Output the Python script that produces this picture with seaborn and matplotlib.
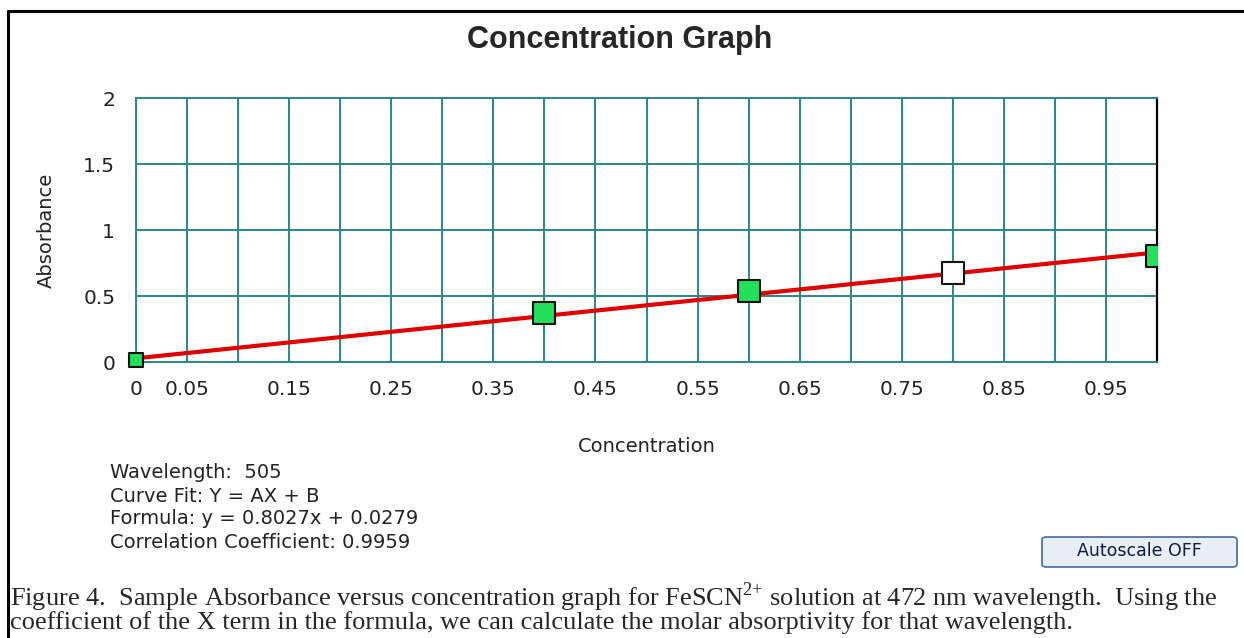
import numpy as np
import pandas as pd
import matplotlib
matplotlib.use("Agg")
import matplotlib.pyplot as plt
from matplotlib.patches import FancyBboxPatch
from matplotlib.lines import Line2D
import seaborn as sns

# data
concentration = [0.0, 0.4, 0.6, 0.8, 1.0]
absorbance = [0.015, 0.37, 0.535, 0.675, 0.80]
used_in_fit = [True, True, True, False, True]
slope, intercept = 0.8027, 0.0279
fit_x = [0.0, 1.0]
x_ticks = [round(0.05 * i, 2) for i in range(21)]
x_labels = ["0", "0.05", "", "0.15", "", "0.25", "", "0.35", "", "0.45", "",
            "0.55", "", "0.65", "", "0.75", "", "0.85", "", "0.95", ""]
y_ticks = [0, 0.5, 1, 1.5, 2]
y_labels = ["0", "0.5", "1", "1.5", "2"]
info_lines = ["Wavelength:  505",
              "Curve Fit: Y = AX + B",
              "Formula: y = 0.8027x + 0.0279",
              "Correlation Coefficient: 0.9959"]

df = pd.DataFrame({"Concentration": concentration, "Absorbance": absorbance,
                   "used": used_in_fit})
fit = pd.DataFrame({"x": fit_x, "y": [slope * v + intercept for v in fit_x]})

sns.set_style("white")
plt.rcParams["font.family"] = ["DejaVu Sans"]

teal = "#2a8888"
fig = plt.figure(figsize=(12.44, 6.38), dpi=100)
ax = fig.add_axes([136 / 1244, 1 - 362 / 638, 1021 / 1244, 264 / 638])

sns.lineplot(data=fit, x="x", y="y", color="#e00000", lw=3, ax=ax, zorder=3)
sizes = [110, 260, 260, 260, 260]
colors = ["#22e05a" if u else "white" for u in used_in_fit]
for i, row in df.iterrows():
    sns.scatterplot(x=[row["Concentration"]], y=[row["Absorbance"]], ax=ax,
                    marker="s", s=sizes[i], color=colors[i],
                    edgecolor="#111111", linewidth=1.5, zorder=4,
                    clip_on=(i != 0))

ax.set_xlim(0, 1)
ax.set_ylim(0, 2)
ax.set_xticks(x_ticks)
ax.set_xticklabels(x_labels)
ax.set_yticks(y_ticks)
ax.set_yticklabels(y_labels)
ax.grid(True, color=teal, lw=1.4)
ax.set_axisbelow(True)
for s in ["left", "top", "bottom"]:
    ax.spines[s].set_color(teal)
    ax.spines[s].set_linewidth(1.4)
ax.spines["right"].set_color("black")
ax.spines["right"].set_linewidth(1.6)
ax.tick_params(axis="both", direction="out", length=9, width=1.3,
               color="#222222", labelsize=14.5, labelcolor="#222222", pad=4)
ax.tick_params(axis="y", pad=6)
ax.set_xlabel("Concentration", fontsize=14, labelpad=27, color="#222222")
ax.set_ylabel("Absorbance", fontsize=14, labelpad=20, color="#222222")

fig.text(620 / 1244, 1 - 40 / 638, "Concentration Graph", ha="center",
         va="center", fontsize=22, fontweight="bold", family="Liberation Sans")

for k, line in enumerate(info_lines):
    fig.text(110 / 1244, 1 - (473 + 23 * k) / 638, line, ha="left",
             va="center", fontsize=14, color="#222222")

# button
btn = FancyBboxPatch((1042 / 1244, 1 - 567 / 638), 195 / 1244, 30 / 638,
                     boxstyle="round,pad=0,rounding_size=0.004",
                     transform=fig.transFigure, facecolor="#e9eef5",
                     edgecolor="#4f74a0", linewidth=1.3)
fig.patches.append(btn)
fig.text(1139 / 1244, 1 - 551 / 638, "Autoscale OFF", ha="center",
         va="center", fontsize=12.5, color="#101c40")

# outer frame
fig.lines.append(Line2D([8 / 1244, 8 / 1244], [0, 1 - 11 / 638],
                        transform=fig.transFigure, color="black", lw=2.2))
fig.lines.append(Line2D([8 / 1244, 1], [1 - 11 / 638, 1 - 11 / 638],
                        transform=fig.transFigure, color="black", lw=2.2))

# caption
fig.text(10 / 1244, 1 - 597 / 638,
         "Figure 4.  Sample Absorbance versus concentration graph for "
         "FeSCN$^{\\mathregular{2{+}}}$ solution at 472 nm wavelength.  Using the",
         ha="left", va="center", fontsize=19, family="Liberation Serif")
fig.text(10 / 1244, 1 - 623 / 638,
         "coefficient of the X term in the formula, we can calculate the molar "
         "absorptivity for that wavelength.",
         ha="left", va="center", fontsize=19, family="Liberation Serif")

fig.savefig("out.png", dpi=100)
